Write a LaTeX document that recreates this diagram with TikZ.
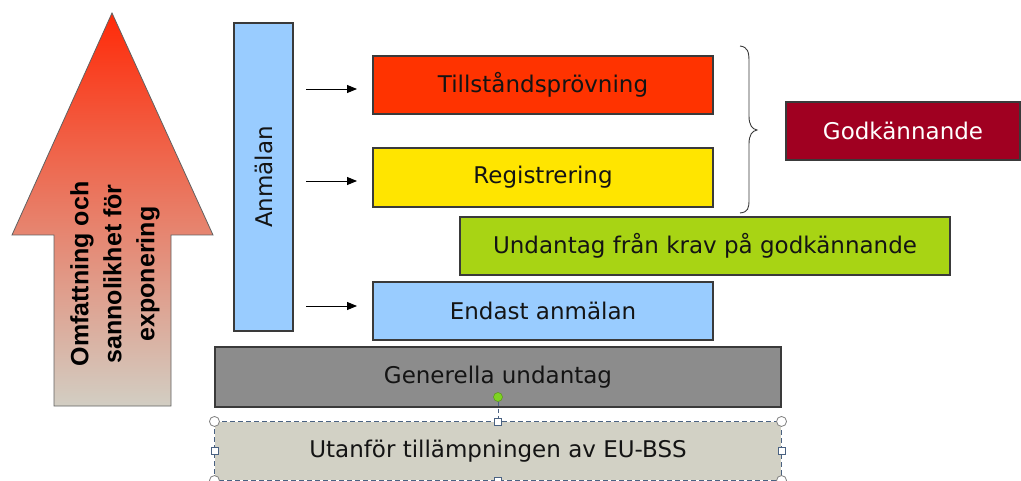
\documentclass[tikz,border=0pt]{standalone}
\usepackage{fontspec}
\setmainfont{DejaVu Sans}
\newfontfamily\arrowfont{Liberation Sans}
\usetikzlibrary{arrows.meta}
\definecolor{anmblue}{HTML}{99CCFF}
\definecolor{tillred}{HTML}{FF3300}
\definecolor{regyel}{HTML}{FFE500}
\definecolor{undgreen}{HTML}{A8D414}
\definecolor{gengray}{HTML}{8C8C8C}
\definecolor{utabeige}{HTML}{D2D1C5}
\definecolor{godred}{HTML}{A00021}
\definecolor{bordr}{HTML}{3A3A3A}
\definecolor{txt}{HTML}{141414}
\definecolor{arrtop}{HTML}{FF2A08}
\definecolor{arrbot}{HTML}{D2CEC3}
\definecolor{handle}{HTML}{4A6282}
\definecolor{rotgreen}{HTML}{7ED321}
\tikzset{
  box/.style={draw=bordr, line width=1.1pt, minimum width=#1, inner sep=0pt, text=txt,
    font=\fontsize{23}{28}\selectfont},
  conn/.style={line width=0.9pt, -{Triangle[length=10pt,width=8pt]}},
  sqhandle/.style={draw=handle, fill=white, line width=0.8pt, minimum size=7pt, inner sep=0pt},
  rdhandle/.style={draw=gray, fill=white, line width=0.8pt, circle, minimum size=10pt, inner sep=0pt},
}
\begin{document}
\begin{tikzpicture}[x=1pt,y=-1pt]
\useasboundingbox (0,0) rectangle (1021,481);
% big arrow
\shade[top color=arrtop, bottom color=arrbot, draw=bordr!80, line width=0.8pt]
  (112,13) -- (213,235) -- (171,235) -- (171,406) -- (54,406) -- (54,235) -- (12,235) -- cycle;
\node[rotate=90, align=center, text=black, inner sep=0pt,
      font=\arrowfont\bfseries\fontsize{25}{33}\selectfont] (arrtext) at (115,274)
  {Omfattning och\\sannolikhet för\\exponering};
% boxes
\node[box=59pt, fill=anmblue, minimum height=308pt] (anm) at (263.5,177) {};
\node[rotate=90, text=txt, font=\fontsize{23}{28}\selectfont] (anmtext) at (anm.center) {Anmälan};
\node[box=340pt, fill=tillred, minimum height=58pt] (till) at (543,85) {Tillståndsprövning};
\node[box=340pt, fill=regyel, minimum height=59pt] (reg) at (543,177.5) {Registrering};
\node[box=490pt, fill=undgreen, minimum height=58pt] (und) at (705,246) {Undantag från krav på godkännande};
\node[box=340pt, fill=anmblue, minimum height=58pt] (end) at (543,311) {Endast anmälan};
\node[box=566pt, fill=gengray, minimum height=60pt] (gen) at (498,377) {Generella undantag};
\node[box=566pt, fill=utabeige, draw=none, minimum height=58pt] (uta) at (498,451) {Utanför tillämpningen av EU-BSS};
\draw[handle, dash pattern=on 5pt off 3pt, line width=1pt] (uta.north west) rectangle (uta.south east);
\node[box=234pt, fill=godred, minimum height=58pt, text=white] (god) at (903,131) {Godkännande};
% arrows
\coordinate (s1) at (306,89);  \coordinate (e1) at (357,89);
\coordinate (s2) at (306,181); \coordinate (e2) at (357,181);
\coordinate (s3) at (306,306); \coordinate (e3) at (357,306);
\draw[conn] (s1) -- (e1);
\draw[conn] (s2) -- (e2);
\draw[conn] (s3) -- (e3);
% brace
\coordinate (bt) at (740,46);
\coordinate (bm) at (757,130);
\coordinate (bb) at (740,213);
\draw[line width=0.9pt, bordr] (bt) .. controls (748,47) and (749,52) .. (749,62)
  -- (749,116) .. controls (749,125) and (752,129) .. (bm)
  .. controls (752,131) and (749,135) .. (749,144)
  -- (749,199) .. controls (749,209) and (748,212) .. (bb);
% selection handles
\node[circle, fill=rotgreen, draw=rotgreen!70!black, line width=0.5pt, minimum size=9pt, inner sep=0pt] (rot) at (498,397) {};
\draw[handle, dash pattern=on 4pt off 3pt, line width=0.9pt] (rot) -- (uta.north);
\node[rdhandle] (h1) at (uta.north west) {};
\node[rdhandle] (h2) at (uta.north east) {};
\node[rdhandle] (h3) at (uta.south west) {};
\node[rdhandle] (h4) at (uta.south east) {};
\node[sqhandle] (h5) at (uta.north) {};
\node[sqhandle] (h6) at (uta.west) {};
\node[sqhandle] (h7) at (uta.east) {};
\node[sqhandle] (h8) at (uta.south) {};
\end{tikzpicture}
\end{document}
